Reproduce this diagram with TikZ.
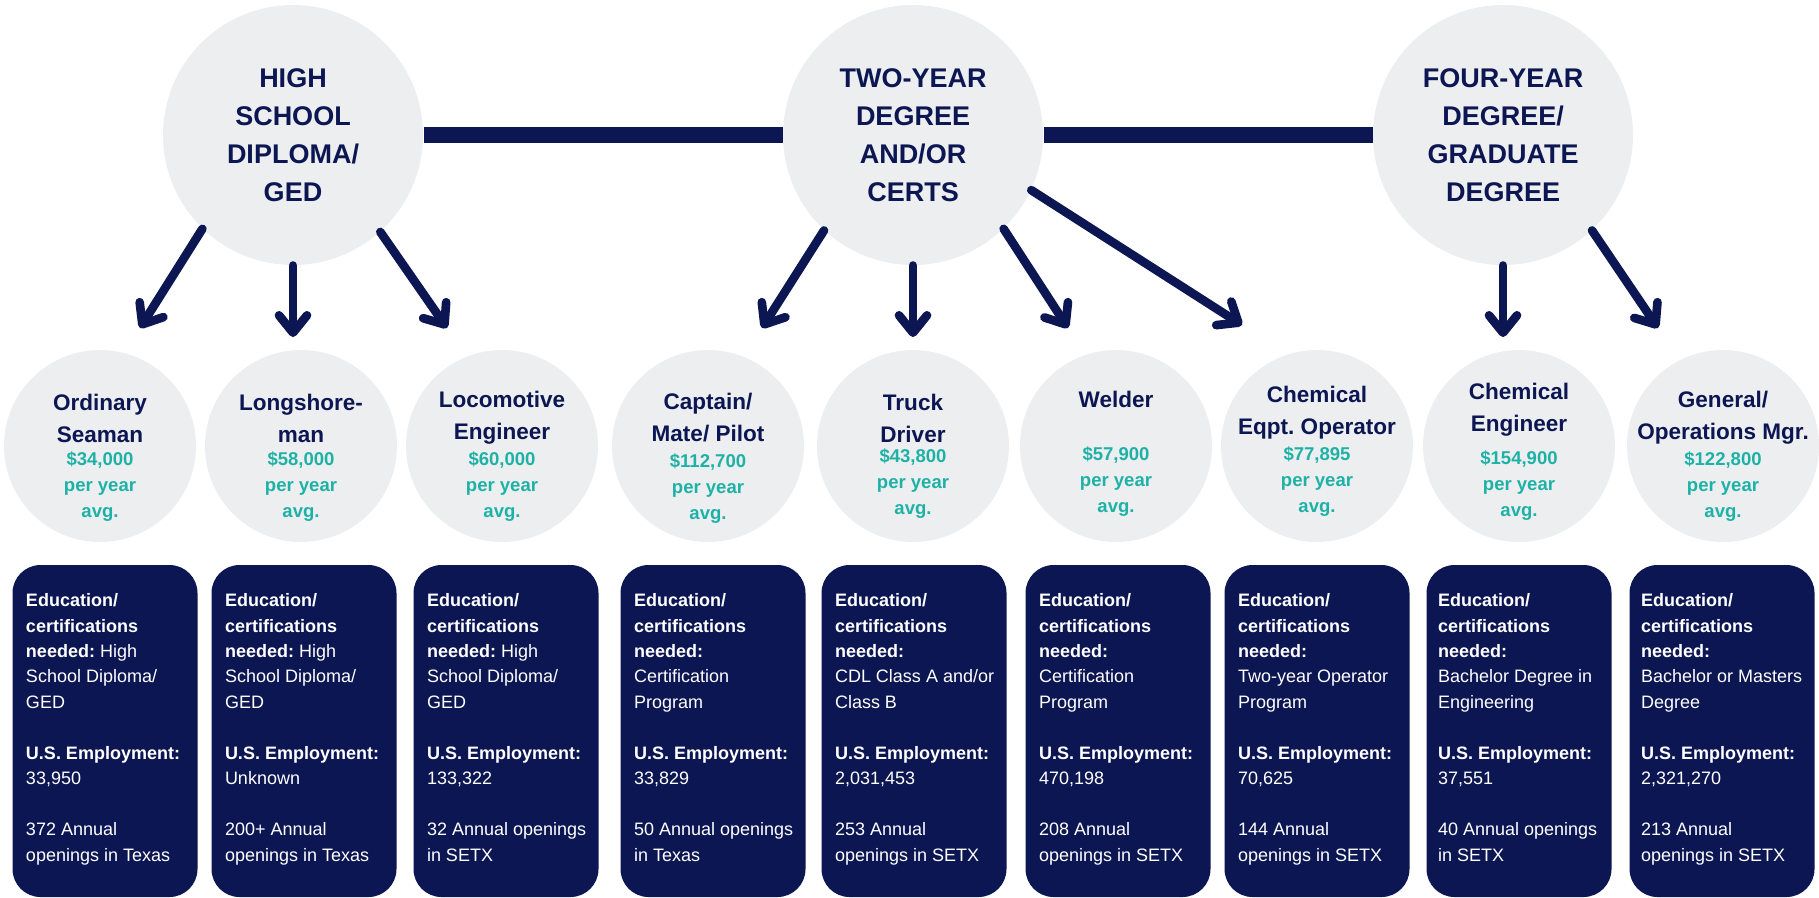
\documentclass[tikz,border=0pt]{standalone}
\usepackage{fontspec}
\setmainfont{Liberation Sans}
\usetikzlibrary{arrows.meta}
\frenchspacing

\definecolor{navy}{RGB}{12,22,82}
\definecolor{salteal}{RGB}{30,178,166}
\definecolor{circgray}{RGB}{237,238,240}

\tikzset{every picture/.style={line width=0.75pt},
  level/.style={circle, fill=circgray, minimum size=195pt, inner sep=0pt, text=navy, align=center,
    font=\fontsize{20.25}{28.5}\selectfont\bfseries},
  job/.style={circle, fill=circgray, minimum size=144pt, inner sep=0pt},
  jobtitle/.style={text=navy, align=center, inner sep=0pt, font=\fontsize{16.9}{24}\selectfont\bfseries},
  salary/.style={text=salteal, align=center, inner sep=0pt, font=\fontsize{13.9}{19.5}\selectfont\bfseries},
  card/.style={fill=navy, rounded corners=21pt, minimum width=138.75pt, minimum height=249pt, inner sep=0pt},
  cardtext/.style={anchor=north west, text=white, align=left, inner sep=0pt, font=\fontsize{13.5}{19.1}\selectfont},
  bar/.style={draw=navy, line width=12pt},
  arr/.style={draw=navy, line width=6.5pt, line cap=round, line join=round,
    -{Straight Barb[length=13pt, width=21pt, line cap=round, line join=round]}}
}

\begin{document}
\begin{tikzpicture}[x=0.75pt,y=0.75pt,yscale=-1,xscale=1]
\useasboundingbox (0,0) rectangle (1819,897);

%Shape: Circle (levels)
\node[level] (hs) at (293,135) {HIGH\\SCHOOL\\DIPLOMA/\\GED};
%Shape: Circle
\node[level] (two) at (913,135) {TWO-YEAR\\DEGREE\\AND/OR\\CERTS};
%Shape: Circle
\node[level] (four) at (1503,135) {FOUR-YEAR\\DEGREE/\\GRADUATE\\DEGREE};

%Straight Lines (bar between levels)
\draw[bar] (hs.east) -- (two.west);
\draw[bar] (two.east) -- (four.west);

%Shape: Circle (jobs)
\node[job] (ord) at (100,446) {};
\node[job] (lsm) at (301,446) {};
\node[job] (loco) at (502,446) {};
\node[job] (capt) at (708,446) {};
\node[job] (truck) at (913,446) {};
\node[job] (weld) at (1116,446) {};
\node[job] (cheq) at (1317,446) {};
\node[job] (chen) at (1519,446) {};
\node[job] (genm) at (1723,446) {};

% Text Node
\node[jobtitle] (ordT) at (100,418) {Ordinary\\Seaman};
\node[salary] (ordS) at (100,487) {\$34,000\\per year\\avg.};
% Text Node
\node[jobtitle] (lsmT) at (301,418) {Longshore-\\man};
\node[salary] (lsmS) at (301,487) {\$58,000\\per year\\avg.};
% Text Node
\node[jobtitle] (locoT) at (502,418) {Locomotive\\Engineer};
\node[salary] (locoS) at (502,487) {\$60,000\\per year\\avg.};
% Text Node
\node[jobtitle] (captT) at (708,418) {Captain/\\Mate/ Pilot};
\node[salary] (captS) at (708,489) {\$112,700\\per year\\avg.};
% Text Node
\node[jobtitle] (truckT) at (913,418) {Truck\\Driver};
\node[salary] (truckS) at (913,484) {\$43,800\\per year\\avg.};
% Text Node
\node[jobtitle] (weldT) at (1116,399) {Welder};
\node[salary] (weldS) at (1116,482) {\$57,900\\per year\\avg.};
% Text Node
\node[jobtitle] (cheqT) at (1317,413) {Chemical\\Eqpt. Operator};
\node[salary] (cheqS) at (1317,482) {\$77,895\\per year\\avg.};
% Text Node
\node[jobtitle] (chenT) at (1519,410) {Chemical\\Engineer};
\node[salary] (chenS) at (1519,486) {\$154,900\\per year\\avg.};
% Text Node
\node[jobtitle] (genmT) at (1723,418) {General/\\Operations Mgr.};
\node[salary] (genmS) at (1723,487) {\$122,800\\per year\\avg.};

%Arrow tips
\coordinate (tipA) at (140,328);
\coordinate (tipB) at (293,337);
\coordinate (tipC) at (447,328);
\coordinate (tipD) at (762,328);
\coordinate (tipE) at (913,337);
\coordinate (tipF) at (1068,328);
\coordinate (tipG) at (1242,325);
\coordinate (tipH) at (1503,337);
\coordinate (tipI) at (1658,328);

%Straight Lines (arrows)
\draw[arr] (hs.226) -- (tipA);
\draw[arr] (hs.south) -- (tipB);
\draw[arr] (hs.312) -- (tipC);
\draw[arr] (two.227) -- (tipD);
\draw[arr] (two.south) -- (tipE);
\draw[arr] (two.314) -- (tipF);
\draw[arr] (two.335) -- (tipG);
\draw[arr] (four.south) -- (tipH);
\draw[arr] (four.313) -- (tipI);

%Shape: Rectangle (cards)
\node[card] (ordC) at (105,731) {};
\node[card] (lsmC) at (304,731) {};
\node[card] (locoC) at (506,731) {};
\node[card] (captC) at (713,731) {};
\node[card] (truckC) at (914,731) {};
\node[card] (weldC) at (1118,731) {};
\node[card] (cheqC) at (1317,731) {};
\node[card] (chenC) at (1519,731) {};
\node[card] (genmC) at (1722,731) {};

% Text Node
\node[cardtext] (ordCT) at (25.5,593) {\textbf{Education/}\\\textbf{certifications}\\\textbf{needed:} High\\School Diploma/\\GED\\[19.1pt]\textbf{U.S. Employment:}\\33,950\\[19.1pt]372 Annual\\openings in Texas};
% Text Node
\node[cardtext] (lsmCT) at (224.5,593) {\textbf{Education/}\\\textbf{certifications}\\\textbf{needed:} High\\School Diploma/\\GED\\[19.1pt]\textbf{U.S. Employment:}\\Unknown\\[19.1pt]200+ Annual\\openings in Texas};
% Text Node
\node[cardtext] (locoCT) at (426.5,593) {\textbf{Education/}\\\textbf{certifications}\\\textbf{needed:} High\\School Diploma/\\GED\\[19.1pt]\textbf{U.S. Employment:}\\133,322\\[19.1pt]32 Annual openings\\in SETX};
% Text Node
\node[cardtext] (captCT) at (633.5,593) {\textbf{Education/}\\\textbf{certifications}\\\textbf{needed:}\\Certification\\Program\\[19.1pt]\textbf{U.S. Employment:}\\33,829\\[19.1pt]50 Annual openings\\in Texas};
% Text Node
\node[cardtext] (truckCT) at (834.5,593) {\textbf{Education/}\\\textbf{certifications}\\\textbf{needed:}\\CDL Class A and/or\\Class B\\[19.1pt]\textbf{U.S. Employment:}\\2,031,453\\[19.1pt]253 Annual\\openings in SETX};
% Text Node
\node[cardtext] (weldCT) at (1038.5,593) {\textbf{Education/}\\\textbf{certifications}\\\textbf{needed:}\\Certification\\Program\\[19.1pt]\textbf{U.S. Employment:}\\470,198\\[19.1pt]208 Annual\\openings in SETX};
% Text Node
\node[cardtext] (cheqCT) at (1237.5,593) {\textbf{Education/}\\\textbf{certifications}\\\textbf{needed:}\\Two-year Operator\\Program\\[19.1pt]\textbf{U.S. Employment:}\\70,625\\[19.1pt]144 Annual\\openings in SETX};
% Text Node
\node[cardtext] (chenCT) at (1437.5,593) {\textbf{Education/}\\\textbf{certifications}\\\textbf{needed:}\\Bachelor Degree in\\Engineering\\[19.1pt]\textbf{U.S. Employment:}\\37,551\\[19.1pt]40 Annual openings\\in SETX};
% Text Node
\node[cardtext] (genmCT) at (1640.5,593) {\textbf{Education/}\\\textbf{certifications}\\\textbf{needed:}\\Bachelor or Masters\\Degree\\[19.1pt]\textbf{U.S. Employment:}\\2,321,270\\[19.1pt]213 Annual\\openings in SETX};

\end{tikzpicture}
\end{document}
